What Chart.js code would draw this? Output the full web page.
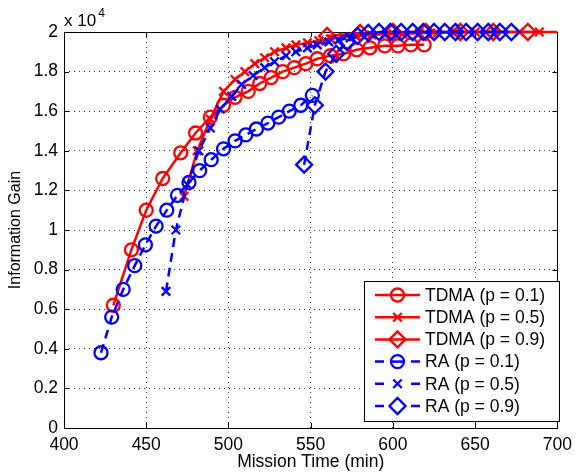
<!DOCTYPE html>
<html><head><meta charset="utf-8">
<style>html,body{margin:0;padding:0;background:#fff;}#wrap{width:579px;height:475px;}</style>
<script src="https://cdn.jsdelivr.net/npm/chart.js@4.4.0/dist/chart.umd.min.js"></script>
</head><body><div id="wrap"><canvas id="c" width="579" height="475"></canvas></div>
<script>
// ---- data (Information Gain vs Mission Time) ----
const xTicks = [400, 450, 500, 550, 600, 650, 700];
const yTicks = [0, 2000, 4000, 6000, 8000, 10000, 12000, 14000, 16000, 18000, 20000];

const tdma01Time = [430, 441, 450, 460, 471, 480, 489, 497, 504, 512, 519, 526, 533, 540, 547, 554, 562, 570, 578, 586, 595, 603, 611, 619];
const tdma01Gain = [6200, 9000, 11000, 12600, 13900, 14900, 15700, 16300, 16700, 17000, 17400, 17700, 18000, 18200, 18400, 18650, 18800, 18900, 19100, 19200, 19300, 19300, 19350, 19350];

const tdma05Time = [473, 481, 489, 497, 504, 510, 516, 522, 528, 535, 541, 548, 555, 562, 570, 578, 587, 596, 606, 616, 627, 638, 650, 662, 677, 689];
const tdma05Gain = [11700, 14000, 15600, 17000, 17600, 18000, 18400, 18700, 19000, 19200, 19350, 19450, 19550, 19650, 19750, 19800, 19850, 19900, 19900, 19950, 19950, 20000, 20000, 20000, 20000, 20000];

const tdma09Time = [560, 580, 600, 620, 641, 661, 682, 700];
const tdma09Gain = [19800, 19950, 20000, 20000, 20000, 20000, 20000, 20000];

const ra01Time = [422.5, 429, 436, 443, 449.5, 456, 462.5, 469, 476, 482.5, 489.5, 497, 504, 510.5, 517, 524, 530.5, 537, 544, 551];
const ra01Gain = [3800, 5600, 7000, 8200, 9250, 10200, 11000, 11750, 12400, 13000, 13550, 14100, 14500, 14800, 15100, 15400, 15700, 16000, 16300, 16800];

const ra05Time = [462, 468, 475, 482, 489, 495, 502, 508, 515, 522, 528, 535, 541, 548, 554, 561, 567, 574];
const ra05Gain = [6900, 10000, 12300, 14000, 15150, 16100, 16750, 17350, 17800, 18200, 18500, 18800, 19000, 19200, 19350, 19500, 19600, 19700];

const ra09Time = [546, 552.5, 559, 565.5, 572, 578.5, 585, 591.5, 598.5, 605, 612, 618.5, 625, 631.5, 638, 644.5, 651.5, 658, 665, 672];
const ra09Gain = [13300, 16300, 18000, 18900, 19500, 19800, 19950, 20000, 20000, 20000, 20000, 20000, 20000, 20000, 20000, 20000, 20000, 20000, 20000, 20000];

const seriesLabels = ['TDMA (p = 0.1)', 'TDMA (p = 0.5)', 'TDMA (p = 0.9)', 'RA (p = 0.1)', 'RA (p = 0.5)', 'RA (p = 0.9)'];

// ---- build ----
const FONT = 'Liberation Sans, Arial, Helvetica, sans-serif';
const FS = 17.5;
const RED = '#ff0000', BLUE = '#0000ff';
const pts = (t, g) => t.map((v, i) => ({x: v, y: g[i]}));

function ds(label, t, g, color, dashed, style, radius, order) {
  return {
    label, data: pts(t, g), borderColor: color, borderWidth: 2.5,
    borderDash: dashed ? [9, 6] : [], pointStyle: style, pointRadius: radius,
    pointBorderColor: color, pointBackgroundColor: 'rgba(0,0,0,0)', pointBorderWidth: 2.3,
    tension: 0, fill: false, clip: 12, order
  };
}
const tdma09Radius = tdma09Time.map((t, i) => i === tdma09Time.length - 1 ? 0 : 8);

const datasets = [
  ds(seriesLabels[0], tdma01Time, tdma01Gain, RED, false, 'circle', 6.5, 6),
  ds(seriesLabels[1], tdma05Time, tdma05Gain, RED, false, 'crossRot', 6, 5),
  ds(seriesLabels[2], tdma09Time, tdma09Gain, RED, false, 'rectRot', tdma09Radius, 4),
  ds(seriesLabels[3], ra01Time, ra01Gain, BLUE, true, 'circle', 6.5, 3),
  ds(seriesLabels[4], ra05Time, ra05Gain, BLUE, true, 'crossRot', 6, 2),
  ds(seriesLabels[5], ra09Time, ra09Gain, BLUE, true, 'rectRot', 8, 1)
];

const framePlugin = {
  id: 'frame',
  beforeDatasetsDraw(chart) {
    const {ctx, chartArea: a, scales: {x, y}} = chart;
    ctx.save();
    ctx.strokeStyle = '#000'; ctx.lineWidth = 1;
    const L = 5;
    ctx.beginPath();
    xTicks.forEach(v => { const px = Math.round(x.getPixelForValue(v)) + 0.5;
      ctx.moveTo(px, a.bottom); ctx.lineTo(px, a.bottom - L);
      ctx.moveTo(px, a.top); ctx.lineTo(px, a.top + L); });
    yTicks.forEach(v => { const py = Math.round(y.getPixelForValue(v)) + 0.5;
      ctx.moveTo(a.left, py); ctx.lineTo(a.left + L, py);
      ctx.moveTo(a.right, py); ctx.lineTo(a.right - L, py); });
    ctx.stroke();
    ctx.strokeRect(Math.round(a.left) + 0.5, Math.round(a.top) + 0.5, Math.round(a.right - a.left), Math.round(a.bottom - a.top));
    ctx.restore();
  },
  afterDraw(chart) {
    const {ctx, chartArea: a} = chart;
    ctx.save();
    // exponent label
    ctx.fillStyle = '#000';
    ctx.textBaseline = 'alphabetic'; ctx.textAlign = 'left';
    ctx.font = `17px ${FONT}`;
    ctx.fillText('x 10', a.left, 26);
    const w = ctx.measureText('x 10').width;
    ctx.font = `12px ${FONT}`;
    ctx.fillText('4', a.left + w + 2, 17);
    // legend
    const bx = 364, by = 281, bw = 195, bh = 140;
    ctx.fillStyle = '#fff';
    ctx.fillRect(bx, by, bw, bh);
    ctx.strokeStyle = '#000'; ctx.lineWidth = 1;
    ctx.strokeRect(bx + 0.5, by + 0.5, bw, bh);
    chart.data.datasets.forEach((d, i) => {
      const ry = 295 + i * 22.2;
      const x0 = 375, x1 = 420, mx = 397.5;
      ctx.strokeStyle = d.borderColor; ctx.lineWidth = d.borderWidth;
      ctx.setLineDash([]);
      ctx.beginPath();
      if (d.borderDash.length) {
        ctx.moveTo(x0, ry); ctx.lineTo(x0 + 9, ry);
        ctx.moveTo(x1 - 9, ry); ctx.lineTo(x1, ry);
      } else { ctx.moveTo(x0, ry); ctx.lineTo(x1, ry); }
      ctx.stroke();
      if (d.borderDash.length && d.pointStyle === 'circle') { ctx.beginPath(); ctx.moveTo(mx - 6, ry); ctx.lineTo(mx + 6, ry); ctx.stroke(); }
      ctx.fillStyle = 'rgba(0,0,0,0)';
      ctx.lineWidth = d.pointBorderWidth;
      const r = Array.isArray(d.pointRadius) ? d.pointRadius[0] : d.pointRadius;
      Chart.helpers.drawPoint(ctx, {pointStyle: d.pointStyle, radius: r, borderWidth: d.pointBorderWidth, rotation: 0}, mx, ry);
      ctx.fillStyle = '#000'; ctx.font = `${FS}px ${FONT}`;
      ctx.textBaseline = 'middle'; ctx.textAlign = 'left';
      ctx.fillText(d.label, 425, ry + 1);
    });
    ctx.restore();
  }
};

const tickFont = {family: FONT, size: FS};
new Chart(document.getElementById('c'), {
  type: 'line',
  data: {datasets},
  plugins: [framePlugin],
  options: {
    responsive: false, animation: false, devicePixelRatio: 1,
    layout: {padding: {top: 32, right: 15, left: 0, bottom: 0}},
    plugins: {legend: {display: false}, tooltip: {enabled: false}},
    scales: {
      x: {
        type: 'linear', min: 400, max: 700,
        afterBuildTicks: s => { s.ticks = xTicks.map(v => ({value: v})); },
        ticks: {font: tickFont, color: '#000', padding: 7, maxRotation: 0, autoSkip: false},
        grid: {color: 'rgba(0,0,0,0.8)', lineWidth: 1, drawTicks: false},
        border: {display: false, dash: [1, 4]},
        title: {display: true, text: 'Mission Time (min)', font: tickFont, color: '#000', padding: {top: 0, bottom: 2}},
        afterFit: s => { s.height = 47; }
      },
      y: {
        type: 'linear', min: 0, max: 20000,
        afterBuildTicks: s => { s.ticks = yTicks.map(v => ({value: v})); },
        ticks: {font: tickFont, color: '#000', padding: 6, autoSkip: false,
          callback: v => String(parseFloat((v / 10000).toFixed(1)))},
        grid: {color: 'rgba(0,0,0,0.8)', lineWidth: 1, drawTicks: false},
        border: {display: false, dash: [1, 4]},
        title: {display: true, text: 'Information Gain', font: {family: FONT, size: 16}, color: '#000', padding: {top: 6, bottom: 0}},
        afterFit: s => { s.width = 64; }
      }
    }
  }
});
</script></body></html>
